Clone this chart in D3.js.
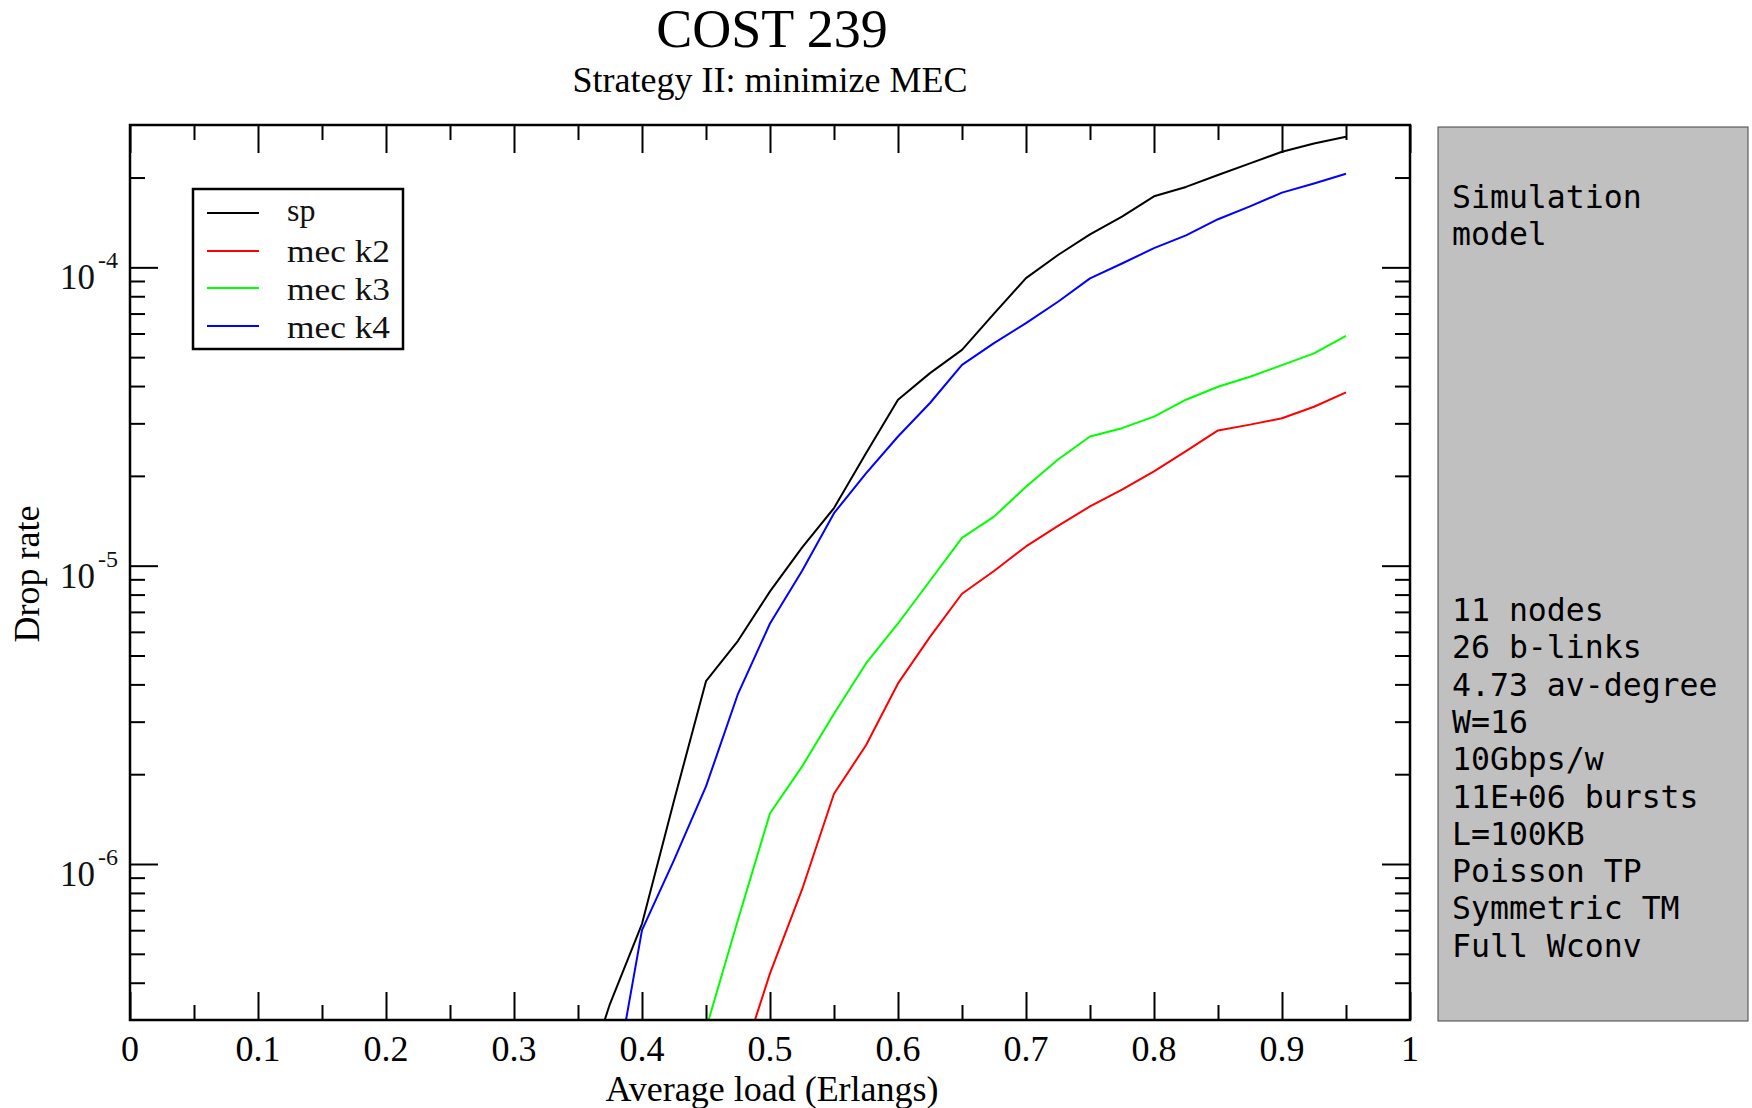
<!DOCTYPE html>
<html>
<head>
<meta charset="utf-8">
<script src="https://cdn.jsdelivr.net/npm/d3@7"></script>
<style>
  html, body { margin: 0; padding: 0; background: #fff; }
  svg { display: block; }
</style>
</head>
<body>
<svg id="chart" width="1752" height="1108"></svg>
<script>
// ---------- data ----------
const titleText = "COST 239";
const subtitleText = "Strategy II: minimize MEC";
const xLabel = "Average load (Erlangs)";
const yLabel = "Drop rate";

const loads = [0.35, 0.375, 0.4, 0.425, 0.45, 0.475, 0.5, 0.525, 0.55, 0.575, 0.6, 0.625, 0.65,
               0.675, 0.7, 0.725, 0.75, 0.775, 0.8, 0.825, 0.85, 0.875, 0.9, 0.925, 0.95];

const spVals = [1.6e-7, 3.4e-7, 6.3e-7, 1.63e-6, 4.1e-6, 5.6e-6, 8.2e-6, 1.15e-5, 1.56e-5, 2.38e-5,
                3.6e-5, 4.42e-5, 5.29e-5, 7.0e-5, 9.2e-5, 1.10e-4, 1.29e-4, 1.48e-4, 1.73e-4, 1.86e-4,
                2.04e-4, 2.23e-4, 2.44e-4, 2.6e-4, 2.74e-4];
const k2Vals = [null, null, null, null, null, 2.0e-7, 4.3e-7, 8.2e-7, 1.72e-6, 2.5e-6,
                4.03e-6, 5.77e-6, 8.05e-6, 9.6e-6, 1.16e-5, 1.36e-5, 1.58e-5, 1.80e-5, 2.07e-5, 2.42e-5,
                2.84e-5, 2.97e-5, 3.12e-5, 3.41e-5, 3.81e-5];
const k3Vals = [null, null, null, 1.3e-7, 2.8e-7, 6.5e-7, 1.48e-6, 2.12e-6, 3.19e-6, 4.7e-6,
                6.4e-6, 8.9e-6, 1.24e-5, 1.46e-5, 1.84e-5, 2.27e-5, 2.71e-5, 2.89e-5, 3.16e-5, 3.6e-5,
                3.98e-5, 4.3e-5, 4.7e-5, 5.15e-5, 5.89e-5];
const k4Vals = [null, 1.5e-7, 6.0e-7, 1.03e-6, 1.82e-6, 3.72e-6, 6.4e-6, 9.6e-6, 1.50e-5, 2.04e-5,
                2.71e-5, 3.51e-5, 4.71e-5, 5.57e-5, 6.5e-5, 7.67e-5, 9.18e-5, 1.03e-4, 1.16e-4, 1.28e-4,
                1.45e-4, 1.60e-4, 1.78e-4, 1.91e-4, 2.06e-4];

const seriesNames = ["sp", "mec k2", "mec k3", "mec k4"];
const seriesColors = ["#000000", "#ff0000", "#00ff00", "#0000ff"];

const xMajorTicks = [0, 0.1, 0.2, 0.3, 0.4, 0.5, 0.6, 0.7, 0.8, 0.9, 1];
const xTickLabels = ["0", "0.1", "0.2", "0.3", "0.4", "0.5", "0.6", "0.7", "0.8", "0.9", "1"];
const xMinorTicks = [0.05, 0.15, 0.25, 0.35, 0.45, 0.55, 0.65, 0.75, 0.85, 0.95];
const yMajorTicks = [1e-6, 1e-5, 1e-4];
const yTickExp = ["-6", "-5", "-4"];
const yMinorTicks = [4e-7, 5e-7, 6e-7, 7e-7, 8e-7, 9e-7,
                     2e-6, 3e-6, 4e-6, 5e-6, 6e-6, 7e-6, 8e-6, 9e-6,
                     2e-5, 3e-5, 4e-5, 5e-5, 6e-5, 7e-5, 8e-5, 9e-5,
                     2e-4];

const infoTop = ["Simulation", "model"];
const infoBottom = ["11 nodes", "26 b-links", "4.73 av-degree", "W=16", "10Gbps/w",
                    "11E+06 bursts", "L=100KB", "Poisson TP", "Symmetric TM", "Full Wconv"];

// ---------- layout ----------
const L = 130, R = 1410, T = 125, B = 1020;
const svg = d3.select("#chart");
const serif = "'Liberation Serif','Times New Roman',serif";
const mono = "'DejaVu Sans Mono',monospace";

const x = d3.scaleLinear().domain([0, 1]).range([L, R]);
const y = d3.scaleLog().domain([3e-7, 3e-4]).range([B, T]);

// titles
svg.append("text").attr("x", 772).attr("y", 47).attr("text-anchor", "middle")
  .attr("font-family", serif).attr("font-size", 54).text(titleText);
svg.append("text").attr("x", 770).attr("y", 92).attr("text-anchor", "middle")
  .attr("font-family", serif).attr("font-size", 36).text(subtitleText);

// clip
svg.append("defs").append("clipPath").attr("id", "plotclip")
  .append("rect").attr("x", L).attr("y", T).attr("width", R - L).attr("height", B - T);

// lines
const allSeries = [spVals, k2Vals, k3Vals, k4Vals];
const line = d3.line()
  .defined(d => d.v != null)
  .x(d => x(d.x)).y(d => y(d.v));
const gLines = svg.append("g").attr("clip-path", "url(#plotclip)");
allSeries.forEach((vals, i) => {
  const pts = loads.map((lx, j) => ({x: lx, v: vals[j]}));
  gLines.append("path").datum(pts)
    .attr("d", line)
    .attr("fill", "none")
    .attr("stroke", seriesColors[i])
    .attr("stroke-width", 2)
    .attr("stroke-linejoin", "round");
});

// axes with d3 (inward ticks), mirrored on top/right
function styleAxis(g) {
  g.select(".domain").remove();
  g.selectAll("line").attr("stroke", "#000").attr("stroke-width", 2);
  g.selectAll("text").remove();
}
const majLen = 28, minLen = 15;
svg.append("g").attr("transform", `translate(0,${B})`)
  .call(d3.axisTop(x).tickValues(xMajorTicks).tickSize(majLen)).call(styleAxis);
svg.append("g").attr("transform", `translate(0,${B})`)
  .call(d3.axisTop(x).tickValues(xMinorTicks).tickSize(minLen)).call(styleAxis);
svg.append("g").attr("transform", `translate(0,${T})`)
  .call(d3.axisBottom(x).tickValues(xMajorTicks).tickSize(majLen)).call(styleAxis);
svg.append("g").attr("transform", `translate(0,${T})`)
  .call(d3.axisBottom(x).tickValues(xMinorTicks).tickSize(minLen)).call(styleAxis);
svg.append("g").attr("transform", `translate(${L},0)`)
  .call(d3.axisRight(y).tickValues(yMajorTicks).tickSize(majLen)).call(styleAxis);
svg.append("g").attr("transform", `translate(${L},0)`)
  .call(d3.axisRight(y).tickValues(yMinorTicks).tickSize(minLen)).call(styleAxis);
svg.append("g").attr("transform", `translate(${R},0)`)
  .call(d3.axisLeft(y).tickValues(yMajorTicks).tickSize(majLen)).call(styleAxis);
svg.append("g").attr("transform", `translate(${R},0)`)
  .call(d3.axisLeft(y).tickValues(yMinorTicks).tickSize(minLen)).call(styleAxis);

// frame
svg.append("rect").attr("x", L).attr("y", T).attr("width", R - L).attr("height", B - T)
  .attr("fill", "none").attr("stroke", "#000").attr("stroke-width", 2.5);

// x tick labels
svg.append("g").selectAll("text").data(xMajorTicks).join("text")
  .attr("x", d => x(d)).attr("y", B + 41)
  .attr("text-anchor", "middle").attr("font-family", serif).attr("font-size", 36)
  .text((d, i) => xTickLabels[i]);

// y tick labels 10^n
yMajorTicks.forEach((v, i) => {
  const t = svg.append("text").attr("x", 118).attr("y", y(v) + 22)
    .attr("text-anchor", "end").attr("font-family", serif).attr("font-size", 35)
    .attr("fill", "#111");
  t.append("tspan").text("10");
  t.append("tspan").attr("dx", 3).attr("dy", -21).attr("font-size", 24).text(yTickExp[i]);
});

// axis titles
svg.append("text").attr("x", 772).attr("y", 1101).attr("text-anchor", "middle")
  .attr("font-family", serif).attr("font-size", 36).text(xLabel);
svg.append("text").attr("transform", "translate(39,574) rotate(-90)")
  .attr("text-anchor", "middle").attr("font-family", serif).attr("font-size", 36).text(yLabel);

// legend
const lg = svg.append("g");
lg.append("rect").attr("x", 193).attr("y", 189).attr("width", 210).attr("height", 160)
  .attr("fill", "#fff").attr("stroke", "#000").attr("stroke-width", 2.5);
const legendY = [213, 251, 288, 326];
const legendTextY = [221, 262, 300, 338];
seriesNames.forEach((n, i) => {
  lg.append("line").attr("x1", 207).attr("x2", 259).attr("y1", legendY[i]).attr("y2", legendY[i])
    .attr("stroke", seriesColors[i]).attr("stroke-width", 2);
  lg.append("text").attr("x", 287).attr("y", legendTextY[i])
    .attr("font-family", serif).attr("font-size", 32).attr("fill", "#111")
    .attr("textLength", n === "sp" ? null : 103).attr("lengthAdjust", "spacingAndGlyphs")
    .text(n);
});

// info box
svg.append("rect").attr("x", 1438).attr("y", 127).attr("width", 310).attr("height", 894)
  .attr("fill", "#c0c0c0").attr("stroke", "#444").attr("stroke-width", 1);
infoTop.forEach((s, i) => {
  svg.append("text").attr("x", 1452).attr("y", 208 + i * 37.3)
    .attr("font-family", mono).attr("font-size", 31.5).attr("fill", "#000").text(s);
});
infoBottom.forEach((s, i) => {
  svg.append("text").attr("x", 1452).attr("y", 621 + i * 37.3)
    .attr("font-family", mono).attr("font-size", 31.5).attr("fill", "#000").text(s);
});
</script>
</body>
</html>
